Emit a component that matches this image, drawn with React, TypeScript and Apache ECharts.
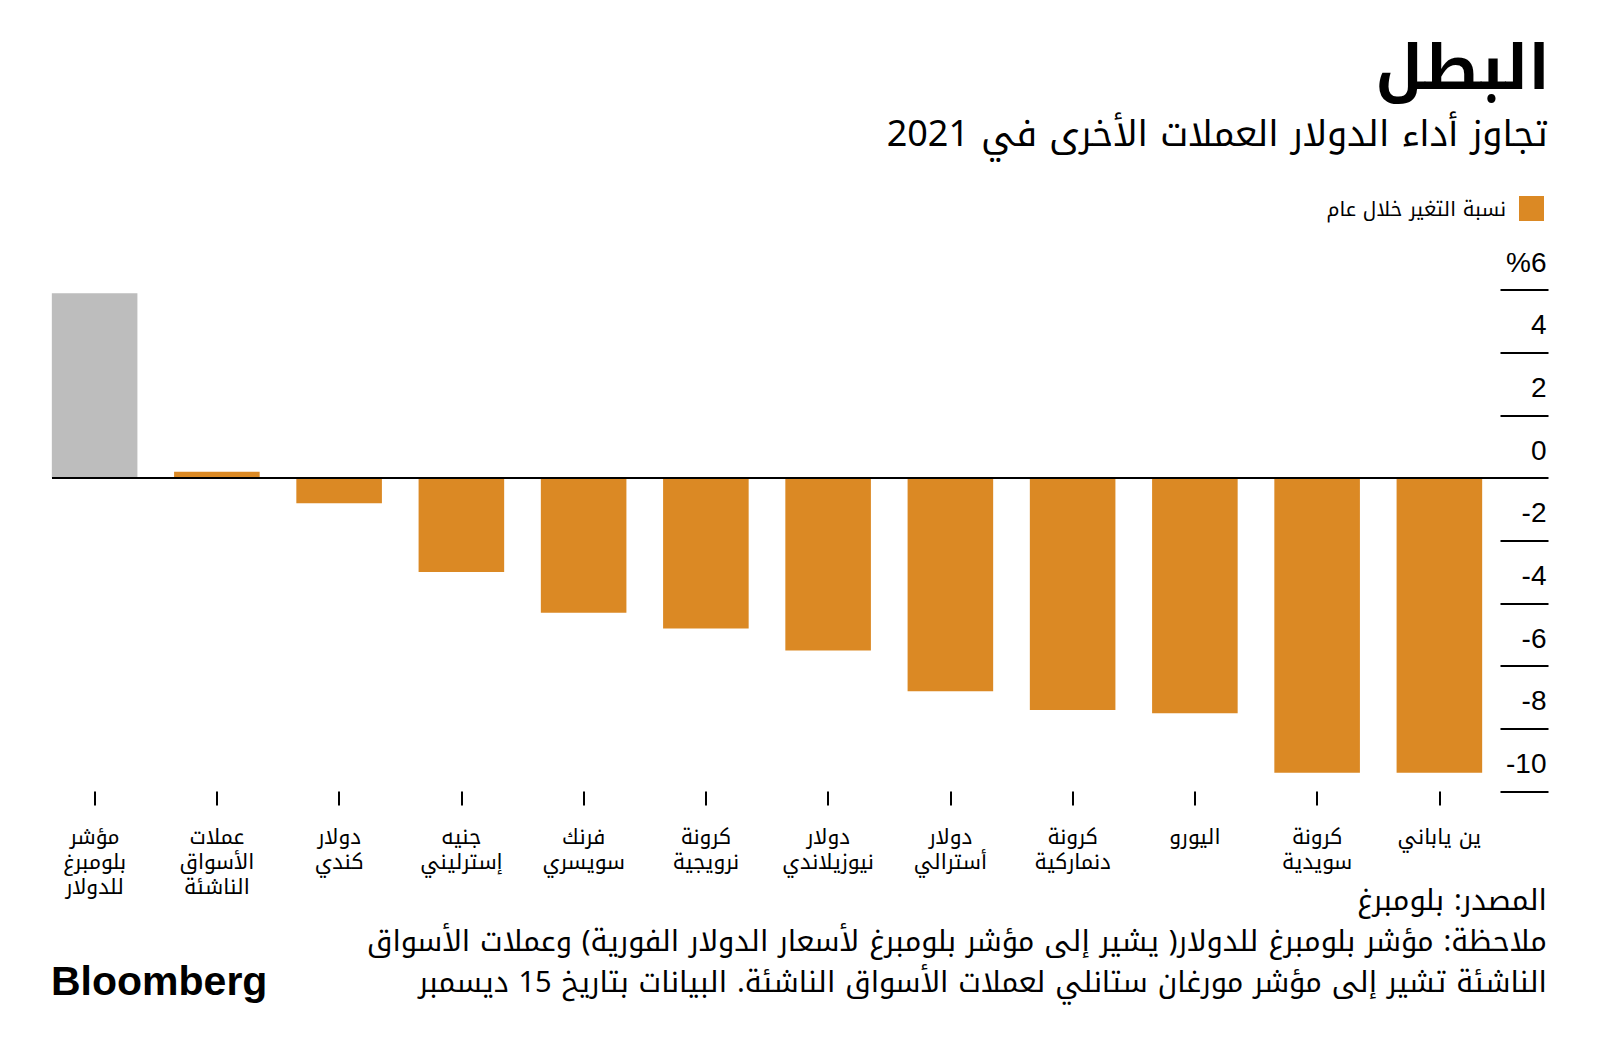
import React, { useEffect, useRef } from "react";
import * as echarts from "echarts";

const categories = [
  "مؤشر\nبلومبرغ\nللدولار",
  "عملات\nالأسواق\nالناشئة",
  "دولار\nكندي",
  "جنيه\nإسترليني",
  "فرنك\nسويسري",
  "كرونة\nنرويجية",
  "دولار\nنيوزيلاندي",
  "دولار\nأسترالي",
  "كرونة\nدنماركية",
  "اليورو",
  "كرونة\nسويدية",
  "ين ياباني",
];

const changePct = [5.9, 0.2, -0.8, -3.0, -4.3, -4.8, -5.5, -6.8, -7.4, -7.5, -9.4, -9.4];
const highlightIndex = [0];

const yTickValues = [-10, -8, -6, -4, -2, 0, 2, 4, 6];
const yTickLabels = ["-10", "-8", "-6", "-4", "-2", "0", "2", "4", "%6"];

const seriesName = "نسبة التغير خلال عام";
const titleText = "البطل";
const subtitleText = "تجاوز أداء الدولار العملات الأخرى في 2021";
const sourceText = "المصدر: بلومبرغ";
const noteLines = [
  "ملاحظة: مؤشر بلومبرغ للدولار( يشير إلى مؤشر بلومبرغ لأسعار الدولار الفورية) وعملات الأسواق",
  "الناشئة تشير إلى مؤشر مورغان ستانلي لعملات الأسواق الناشئة. البيانات بتاريخ 15 ديسمبر",
];

const ORANGE = "#DB8924";
const GRAY = "#BDBDBD";
const AR = '"Noto Kufi Arabic", "Noto Sans Arabic", "DejaVu Sans", sans-serif';
const LAT = '"Liberation Sans", Arial, sans-serif';
const rtl = (s: string) => "\u202B" + s + "\u202C";

export default function App() {
  const ref = useRef<HTMLDivElement>(null);
  useEffect(() => {
    document.body.style.margin = "0";
    if (!ref.current) return;
    const chart = echarts.init(ref.current, null, { renderer: "svg" });
    chart.setOption({
      animation: false,
      backgroundColor: "#ffffff",
      grid: { left: 33.5, right: 99.5, top: 290, bottom: 265.5, containLabel: false },
      legend: {
        right: 51,
        top: 191,
        align: "right",
        icon: "rect",
        itemWidth: 25,
        itemHeight: 25,
        textStyle: { fontFamily: AR, fontSize: 20, color: "#000", padding: [0, 8, 0, 0] },
        data: [seriesName],
      },
      xAxis: {
        type: "category",
        data: categories,
        position: "bottom",
        axisLine: { show: false, onZero: false },
        axisTick: { show: true, alignWithLabel: true, length: 14, lineStyle: { color: "#000", width: 2 } },
        axisLabel: {
          interval: 0,
          margin: 33,
          fontFamily: AR,
          fontSize: 21,
          lineHeight: 25,
          color: "#000",
          formatter: (v: string) => v.split("\n").map(rtl).join("\n"),
        },
        splitLine: { show: false },
      },
      yAxis: {
        type: "value",
        position: "right",
        min: -10,
        max: 6,
        interval: 2,
        axisLine: { show: false },
        axisTick: { show: true, length: 48, lineStyle: { color: "#000", width: 2 } },
        splitLine: { show: false },
        axisLabel: {
          margin: 46,
          align: "right",
          verticalAlign: "bottom",
          padding: [0, 0, 14, 0],
          fontFamily: LAT,
          fontSize: 28,
          color: "#000",
          formatter: (v: number) => {
            const i = yTickValues.indexOf(v);
            return i >= 0 ? yTickLabels[i] : String(v);
          },
        },
      },
      series: [
        {
          name: seriesName,
          type: "bar",
          barCategoryGap: "30%",
          itemStyle: { color: ORANGE },
          data: changePct.map((v, i) =>
            highlightIndex.includes(i) ? { value: v, itemStyle: { color: GRAY } } : v
          ),
          markLine: {
            silent: true,
            symbol: ["none", "none"],
            label: { show: false },
            lineStyle: { color: "#000", width: 2, type: "solid" },
            data: [[{ x: 52, yAxis: 0 }, { x: 1548, yAxis: 0 }]],
          },
        },
      ],
      graphic: [
        {
          type: "text",
          x: 1550,
          y: 68,
          style: { text: rtl(titleText), align: "right", verticalAlign: "middle", fontFamily: AR, fontSize: 62, fontWeight: "bold", fill: "#000" },
        },
        {
          type: "text",
          x: 1548,
          y: 134,
          style: { text: rtl(subtitleText), align: "right", verticalAlign: "middle", fontFamily: AR, fontSize: 36, fill: "#000" },
        },
        {
          type: "text",
          x: 1547,
          y: 900,
          style: { text: rtl(sourceText), align: "right", verticalAlign: "middle", fontFamily: AR, fontSize: 29, fill: "#000" },
        },
        {
          type: "text",
          x: 1547,
          y: 941,
          style: { text: rtl(noteLines[0]), align: "right", verticalAlign: "middle", fontFamily: AR, fontSize: 29, fill: "#000" },
        },
        {
          type: "text",
          x: 1547,
          y: 982,
          style: { text: rtl(noteLines[1]), align: "right", verticalAlign: "middle", fontFamily: AR, fontSize: 29, fill: "#000" },
        },
        {
          type: "text",
          x: 51,
          y: 981,
          style: { text: "Bloomberg", align: "left", verticalAlign: "middle", fontFamily: LAT, fontSize: 41, fontWeight: 900, fill: "#000" },
        },
      ],
    });
    return () => chart.dispose();
  }, []);
  return <div ref={ref} style={{ width: 1600, height: 1057 }} />;
}
